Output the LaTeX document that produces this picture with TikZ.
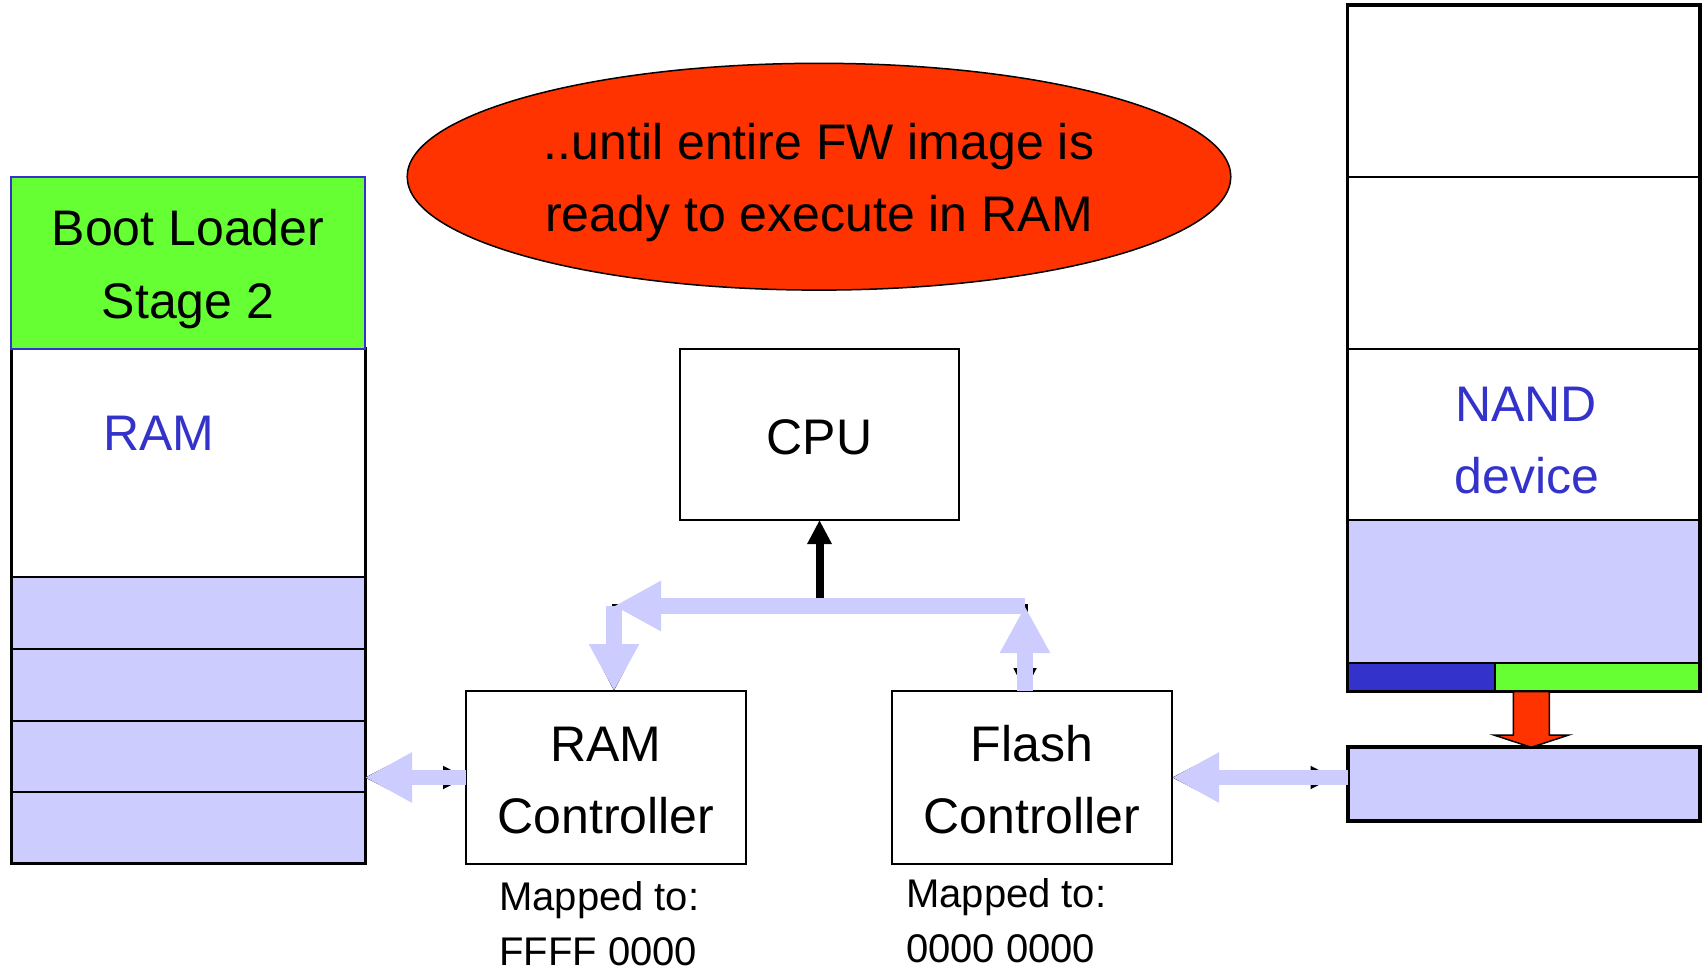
\documentclass[tikz,border=0pt]{standalone}
\usepackage{fontspec}
\setmainfont{Liberation Sans}
\usetikzlibrary{arrows.meta,calc,shapes.geometric}

\definecolor{lav}{HTML}{CCCCFF}
\definecolor{grn}{HTML}{66FF33}
\definecolor{blu}{HTML}{3333CC}
\definecolor{hot}{HTML}{FF3300}

\begin{document}
\begin{tikzpicture}[x=1pt,y=-1pt,
  big/.style={font=\fontsize{50}{72}\selectfont, inner sep=0pt, anchor=base},
  small/.style={font=\fontsize{40}{56}\selectfont, inner sep=0pt, anchor=base west},
  cell/.style={draw, line width=2pt, inner sep=0pt, outer sep=0pt, anchor=north west},
  frame/.style={draw, line width=3pt, inner sep=0pt, outer sep=0pt, anchor=north west},
  unitbox/.style={draw, line width=2pt, fill=white, inner sep=0pt, outer sep=0pt,
                  anchor=north west, minimum width=280pt, minimum height=173pt},
  lavarrow/.style={draw=lav, line width=15.5pt, -{Triangle[length=47pt,width=47pt]}},
  blk/.style={draw=black, line width=5pt,
              {Triangle[length=23pt,width=22pt]}-{Triangle[length=23pt,width=22pt]}},
]
\useasboundingbox (0,0) rectangle (1708,971);
\fill[white] (0,0) rectangle (1708,971);

% ---------- RAM column ----------
\node[cell, fill=white, minimum width=354pt, minimum height=228.7pt] (ramfree) at (11,348.6) {};
\node[cell, fill=lav, minimum width=354pt, minimum height=71.6pt] (ram1) at (11,577.3) {};
\node[cell, fill=lav, minimum width=354pt, minimum height=71.6pt] (ram2) at (11,648.9) {};
\node[cell, fill=lav, minimum width=354pt, minimum height=71.6pt] (ram3) at (11,720.5) {};
\node[cell, fill=lav, minimum width=354pt, minimum height=71.7pt] (ram4) at (11,792.1) {};
\node[frame, minimum width=354pt, minimum height=515.2pt] (ramcol) at (11,348.6) {};
\node[cell, fill=grn, draw=blu, minimum width=354pt, minimum height=172.1pt] (boot) at (11,176.5) {};
\node[big] (boottxt1) at (188,245.7) {Boot Loader};
\node[big] (boottxt2) at (188,318.3) {Stage 2};
\node[big, text=blu] (ramtxt) at (159,450) {RAM};

% ---------- NAND column ----------
\node[cell, fill=white, minimum width=352.5pt, minimum height=171.5pt] (nand1) at (1347.5,5) {};
\node[cell, fill=white, minimum width=352.5pt, minimum height=172.5pt] (nand2) at (1347.5,176.5) {};
\node[cell, fill=white, minimum width=352.5pt, minimum height=171pt] (nand3) at (1347.5,349) {};
\node[cell, fill=lav, minimum width=352.5pt, minimum height=143.3pt] (nand4) at (1347.5,520) {};
\node[cell, fill=blu, minimum width=147.5pt, minimum height=28.4pt] (stripA) at (1347.5,663.3) {};
\node[cell, fill=grn, minimum width=205pt, minimum height=28.4pt] (stripB) at (1495,663.3) {};
\node[frame, line width=3.5pt, minimum width=352.5pt, minimum height=686.7pt] (nandcol) at (1347.5,5) {};
\node[big, text=blu] (nandtxt1) at (1526,421.7) {NAND};
\node[big, text=blu] (nandtxt2) at (1527,493.3) {device};

% page buffer below the NAND array
\node[frame, line width=4pt, fill=lav, minimum width=352.5pt, minimum height=73.7pt] (nandbuf) at (1347.5,747.3) {};

% ---------- note ----------
\node[ellipse, draw, line width=1.5pt, fill=hot, inner sep=0pt,
      minimum width=823.6pt, minimum height=226.8pt] (note) at (819,176.7) {};
\node[big] (note1) at (819,160) {..until entire FW image is};
\node[big] (note2) at (819,231.7) {ready to execute in RAM};

% ---------- CPU and controllers ----------
\node[unitbox, minimum width=279pt, minimum height=171.4pt] (cpu) at (680,348.6) {};
\node[big] (cputxt) at (819.5,454) {CPU};

\node[unitbox] (ramctl) at (466,691) {};
\node[big] (ramctl1) at (606,761) {RAM};
\node[big] (ramctl2) at (606,833) {Controller};

\node[unitbox] (flashctl) at (892,691) {};
\node[big] (flashctl1) at (1032,761) {Flash};
\node[big] (flashctl2) at (1032,833) {Controller};

\node[small] (rammap1) at (499,910) {Mapped to:};
\node[small] (rammap2) at (499,965) {FFFF 0000};
\node[small] (flashmap1) at (906,907) {Mapped to:};
\node[small] (flashmap2) at (906,962) {0000 0000};

% ---------- bus ----------
\coordinate (busL) at (614,606);
\coordinate (busR) at (1025,606);

\draw[line width=8pt, -{Triangle[length=24pt,width=23pt]}] (cpu.south |- busR) -- (cpu.south);

\draw[blk, line join=miter] (ramctl.north -| busL) -- (busL) -- (busR) -- (flashctl.north -| busR);
\draw[blk] (ramctl.west -| ramcol.east) -- (ramctl.west);
\draw[blk] (flashctl.east) -- ($(flashctl.east -| nandbuf.west)+(-14,0)$);

\draw[lavarrow] (flashctl.north -| busR) -- (busR);
\draw[lavarrow] (busR) -- (busL);
\draw[lavarrow] (busL) -- (ramctl.north -| busL);
\draw[lavarrow] (ramctl.west) -- (ramctl.west -| ramcol.east);
\draw[lavarrow] (flashctl.east -| nandbuf.west) -- (flashctl.east);

% ---------- copy from NAND array into the page buffer ----------
\coordinate (rtop) at (stripB.south -| 1531.3,0);
\coordinate (rtip) at (nandbuf.north -| 1531.3,0);
\draw[line width=1.5pt, fill=hot, line join=miter]
  ($(rtop)+(-18,0)$) -- ($(rtop)+(18,0)$) -- ($(rtip)+(18,-12.3)$) -- ($(rtip)+(37.5,-12.3)$)
  -- (rtip) -- ($(rtip)+(-37.5,-12.3)$) -- ($(rtip)+(-18,-12.3)$) -- cycle;
\end{tikzpicture}
\end{document}
